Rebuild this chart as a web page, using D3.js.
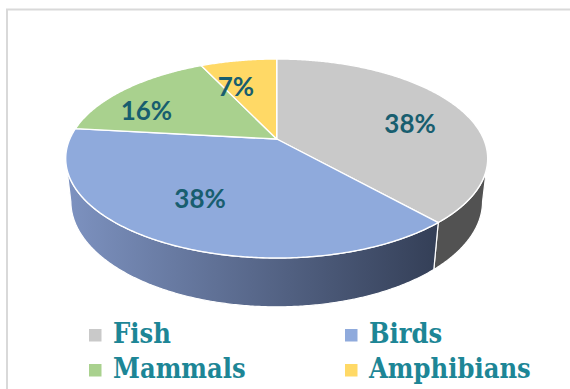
<!DOCTYPE html>
<html>
<head>
<meta charset="utf-8">
<script src="https://cdn.jsdelivr.net/npm/d3@7"></script>
<style>
  html, body { margin: 0; padding: 0; background: #ffffff; }
  svg { display: block; }
</style>
</head>
<body>
<svg id="chart" width="570" height="389"></svg>
<script>
// Share of species by group
const categories = ["Fish", "Birds", "Mammals", "Amphibians"];
const shares = [38, 38, 16, 7];
const topColors = ["#c9c9c9", "#8faadc", "#a9d18e", "#ffd966"];
const wallColors = ["#525252", "url(#birdsWall)", "#6f8b5d", "#b09040"];

const W = 570, H = 389;
const svg = d3.select("#chart");

// Chart frame
svg.append("rect")
  .attr("x", 7).attr("y", 9.5)
  .attr("width", W + 20).attr("height", H + 20)
  .attr("fill", "#ffffff")
  .attr("stroke", "#d9d9d9").attr("stroke-width", 2);

// Perspective view of a tilted disc (radius 1, height `thick`)
const view = {
  cx: 276.7, cy: 139,   // screen position of the disc centre
  k: 206.9,             // screen scale of a unit radius
  tilt: 27.55 * Math.PI / 180,
  persp: 0.221,         // radius / camera distance
  thick: 0.236          // wall height in radius units
};
const sinE = Math.sin(view.tilt), cosE = Math.cos(view.tilt);

// angle a measured clockwise from the far side of the disc
function project(a, rho, h) {
  const X = rho * Math.sin(a);
  const d = -rho * Math.cos(a);
  const Y = h * cosE - d * sinE;
  const Z = h * sinE + d * cosE;
  const w = 1 - view.persp * Z;
  return [view.cx + view.k * X / w, view.cy - view.k * Y / w];
}

function arcPoints(a0, a1, rho, h) {
  const n = Math.max(2, Math.ceil(Math.abs(a1 - a0) / (Math.PI / 360)));
  return d3.range(n + 1).map(i => project(a0 + (a1 - a0) * i / n, rho, h));
}

const pie = d3.pie().sort(null).value(d => d)(shares);
const line = d3.line();

// gradient for the shaded wall of the Birds slice
const defs = svg.append("defs");
const grad = defs.append("linearGradient")
  .attr("id", "birdsWall")
  .attr("gradientUnits", "userSpaceOnUse")
  .attr("x1", 67).attr("y1", 0).attr("x2", 437).attr("y2", 0);
grad.append("stop").attr("offset", 0).attr("stop-color", "#7d92c0");
grad.append("stop").attr("offset", 1).attr("stop-color", "#343f57");

// the wall faces the viewer where cos(a) < -persp*cos(tilt)
const aVis = Math.acos(-view.persp * cosE);
const visStart = aVis, visEnd = 2 * Math.PI - aVis;

const walls = svg.append("g");
pie.forEach((s, i) => {
  const a0 = Math.max(s.startAngle, visStart);
  const a1 = Math.min(s.endAngle, visEnd);
  if (a1 <= a0) return;
  const top = arcPoints(a0, a1, 1, 0);
  const bottom = arcPoints(a0, a1, 1, -view.thick).reverse();
  walls.append("path")
    .attr("d", line(top.concat(bottom)) + "Z")
    .attr("fill", wallColors[i])
    .attr("stroke", "#ffffff")
    .attr("stroke-width", 1.2)
    .attr("stroke-linejoin", "round");
});

// top faces
const tops = svg.append("g");
pie.forEach((s, i) => {
  const pts = [project(0, 0, 0)].concat(arcPoints(s.startAngle, s.endAngle, 1, 0));
  tops.append("path")
    .attr("d", line(pts) + "Z")
    .attr("fill", topColors[i])
    .attr("stroke", "#ffffff")
    .attr("stroke-width", 1.4)
    .attr("stroke-linejoin", "round");
});

// data labels placed on an ellipse around the disc centre
const lab = { cx: 269.2, cy: 145, rx: 150.8, ry: 60 };
svg.append("g").selectAll("text")
  .data(pie)
  .join("text")
  .attr("x", d => lab.cx + lab.rx * Math.sin((d.startAngle + d.endAngle) / 2))
  .attr("y", d => lab.cy - lab.ry * Math.cos((d.startAngle + d.endAngle) / 2))
  .attr("dy", "0.36em")
  .attr("text-anchor", "middle")
  .attr("font-family", "Lato, 'Open Sans', sans-serif")
  .attr("font-weight", "bold")
  .attr("font-size", 26)
  .attr("fill", "#185e6f")
  .text(d => d.data + "%");

// legend: two columns, two rows
const colX = d3.scalePoint().domain([0, 1]).range([89, 345]);
const rowY = d3.scalePoint().domain([0, 1]).range([343, 378]);
const legend = svg.append("g").selectAll("g")
  .data(categories)
  .join("g")
  .attr("transform", (d, i) => `translate(${colX(i % 2)},${rowY(Math.floor(i / 2))})`);
legend.append("rect")
  .attr("x", 0).attr("y", -14)
  .attr("width", 12.5).attr("height", 12.5)
  .attr("fill", (d, i) => topColors[i]);
legend.append("text")
  .attr("x", 24).attr("y", 0)
  .attr("font-family", "'DejaVu Serif Condensed', 'DejaVu Serif', serif")
  .attr("font-stretch", "condensed")
  .attr("font-weight", "bold")
  .attr("font-size", 27)
  .attr("fill", "#1d8696")
  .text(d => d);
</script>
</body>
</html>
